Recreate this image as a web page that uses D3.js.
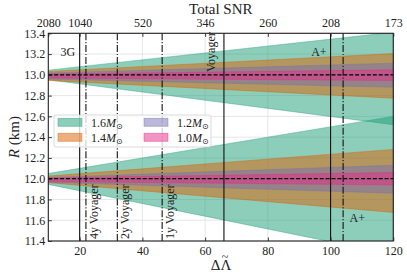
<!DOCTYPE html>
<html><head><meta charset="utf-8">
<script src="https://cdn.jsdelivr.net/npm/d3@7"></script>
<style>
body{margin:0;background:#fff;}
</style></head>
<body><svg id="c" width="407" height="279"></svg>
<script>
// ---- data ----
const xEnds = [10, 120];                       // x positions where band bounds are given
const masses = ["1.6", "1.4", "1.2", "1.0"];
const colors = ["#1b9e77", "#d95f02", "#7570b3", "#e7298a"];
// R = 13 km family: [value at x=10, value at x=120]
const upper13 = [[13.045, 13.41], [13.033, 13.205], [13.017, 13.112], [13.007, 13.048]];
const lower13 = [[12.952, 12.52], [12.946, 12.775], [12.959, 12.881], [12.970, 12.945]];
// R = 12 km family
const upper12 = [[12.050, 12.60], [12.025, 12.282], [12.011, 12.130], [12.006, 12.060]];
const lower12 = [[11.945, 11.27], [11.962, 11.675], [11.966, 11.860], [11.972, 11.940]];
const centers = [13.0, 12.0];
const bottomTicks = [20, 40, 60, 80, 100, 120];
const topTicks = [10, 20, 40, 60, 80, 100, 120];
const topTickLabels = ["2080", "1040", "520", "346", "260", "208", "173"];
const yTicks = [11.4, 11.6, 11.8, 12.0, 12.2, 12.4, 12.6, 12.8, 13.0, 13.2, 13.4];
const vLinesX = [20, 22, 32, 46.3, 66, 100, 104];
const vLinesStyle = ["solid", "dashdot", "dashdot", "dashdot", "solid", "solid", "dashdot"];
const vLabels = ["3G", "4y Voyager", "2y Voyager", "1y Voyager", "Voyager", "A+", "A+"];

// ---- layout ----
const FONT = "'Liberation Serif', 'Times New Roman', Times, serif";
const svg = d3.select("#c");
const L = 48.3, R = 393.3, T = 33.3, B = 241;
const x = d3.scaleLinear().domain([10, 120]).range([L, R]);
const y = d3.scaleLinear().domain([11.4, 13.4]).range([B, T]);

svg.append("rect").attr("width", 407).attr("height", 279).attr("fill", "#fff");
svg.append("defs").append("clipPath").attr("id", "clip")
  .append("rect").attr("x", L).attr("y", T).attr("width", R - L).attr("height", B - T);

// grid
const grid = svg.append("g").attr("stroke", "#e3e3e3").attr("stroke-width", 0.9);
bottomTicks.forEach(v => grid.append("line").attr("x1", x(v)).attr("x2", x(v)).attr("y1", T).attr("y2", B));
yTicks.forEach(v => grid.append("line").attr("x1", L).attr("x2", R).attr("y1", y(v)).attr("y2", y(v)));

// bands
const plot = svg.append("g").attr("clip-path", "url(#clip)");
const area = d3.area().x(d => x(d.x)).y0(d => y(d.lo)).y1(d => y(d.hi));
[[upper13, lower13], [upper12, lower12]].forEach(([up, lo]) => {
  masses.forEach((m, i) => {
    const pts = xEnds.map((xv, k) => ({x: xv, lo: lo[i][k], hi: up[i][k]}));
    plot.append("path").attr("d", area(pts))
      .attr("fill", colors[i]).attr("fill-opacity", 0.5)
      .attr("stroke", colors[i]).attr("stroke-opacity", 0.5).attr("stroke-width", 0.8);
  });
});

// dashed center lines
centers.forEach(c => plot.append("line").attr("x1", L).attr("x2", R).attr("y1", y(c)).attr("y2", y(c))
  .attr("stroke", "#000").attr("stroke-width", 1.2).attr("stroke-dasharray", "4,1.9"));

// vertical lines
vLinesX.forEach((v, i) => {
  const ln = plot.append("line").attr("x1", x(v)).attr("x2", x(v)).attr("y1", T).attr("y2", B)
    .attr("stroke", "#111").attr("stroke-width", 1.1);
  if (vLinesStyle[i] === "dashdot") ln.attr("stroke-dasharray", "7,1.8,1.2,1.8");
});

// vertical line labels
const fs = 12;
function hLabel(txt, px, py, anchor) {
  svg.append("text").attr("x", px).attr("y", py).attr("text-anchor", anchor).attr("font-size", fs).text(txt);
}
function vLabel(txt, px, py) {
  svg.append("text").attr("transform", `translate(${px},${py}) rotate(-90)`).attr("font-size", fs).text(txt);
}
hLabel(vLabels[0], x(vLinesX[0]) - 4.5, 56, "end");
vLabel(vLabels[1], x(vLinesX[1]) + 12, 239);
vLabel(vLabels[2], x(vLinesX[2]) + 11.5, 239);
vLabel(vLabels[3], x(vLinesX[3]) + 11.5, 239);
vLabel(vLabels[4], x(vLinesX[4]) - 9, 72);
hLabel(vLabels[5], x(vLinesX[5]) - 4, 55.5, "end");
hLabel(vLabels[6], x(vLinesX[6]) + 6.5, 222, "start");

// axes
function styleAxis(g) {
  g.select(".domain").remove();
  g.attr("font-family", null);
  g.selectAll("line").attr("stroke", "#222").attr("stroke-width", 0.9);
  g.selectAll("text").attr("font-size", 12).attr("fill", "#222");
}
svg.append("g").attr("transform", `translate(0,${B})`)
  .call(d3.axisBottom(x).tickValues(bottomTicks).tickSize(-3.5).tickPadding(5.5).tickFormat(d3.format("d")))
  .call(styleAxis);
svg.append("g").attr("transform", `translate(${L},0)`)
  .call(d3.axisLeft(y).tickValues(yTicks).tickSize(-3.5).tickPadding(3).tickFormat(d3.format(".1f")))
  .call(styleAxis);
svg.append("g").attr("transform", `translate(0,${T})`)
  .call(d3.axisTop(x).tickValues(topTicks).tickSize(-3.5).tickPadding(6.5).tickFormat((d, i) => topTickLabels[i]))
  .call(styleAxis);

// frame
svg.append("rect").attr("x", L).attr("y", T).attr("width", R - L).attr("height", B - T)
  .attr("fill", "none").attr("stroke", "#222").attr("stroke-width", 1.1);

// titles
svg.append("text").attr("x", (L + R) / 2).attr("y", 14).attr("text-anchor", "middle").attr("font-size", 15).text("Total SNR");
const xl = svg.append("text").attr("x", (L + R) / 2 - 10).attr("y", 270).attr("font-size", 15);
xl.append("tspan").text("ΔΛ");
xl.append("tspan").attr("dx", -9.5).attr("dy", -9.5).attr("font-size", 12).text("~");
const yl = svg.append("text").attr("transform", `translate(19,${(T + B) / 2}) rotate(-90)`).attr("text-anchor", "middle").attr("font-size", 15);
yl.append("tspan").attr("font-style", "italic").text("R");
yl.append("tspan").text(" (km)");

// legend
const lg = svg.append("g");
lg.append("rect").attr("x", 54).attr("y", 115).attr("width", 157).attr("height", 32).attr("rx", 2)
  .attr("fill", "#fff").attr("fill-opacity", 0.8).attr("stroke", "#d0d0d0").attr("stroke-width", 0.8);
masses.forEach((m, i) => {
  const col = Math.floor(i / 2), row = i % 2;
  const sx = 58 + col * 86, sy = 118.3 + row * 15;
  lg.append("rect").attr("x", sx).attr("y", sy).attr("width", 24).attr("height", 8)
    .attr("fill", colors[i]).attr("fill-opacity", 0.5).attr("stroke", colors[i]).attr("stroke-opacity", 0.5).attr("stroke-width", 0.8);
  const t = lg.append("text").attr("x", sx + 33).attr("y", sy + 8.3).attr("font-size", 12);
  t.append("tspan").text(m);
  t.append("tspan").attr("font-style", "italic").text("M");
  t.append("tspan").attr("class", "sun").attr("font-size", 8).attr("dy", 2.5).text("⊙");
});

svg.selectAll("text").style("font-family", FONT).attr("fill", "#222");
svg.selectAll("tspan.sun").style("font-family", "'DejaVu Sans', sans-serif");
</script></body></html>
